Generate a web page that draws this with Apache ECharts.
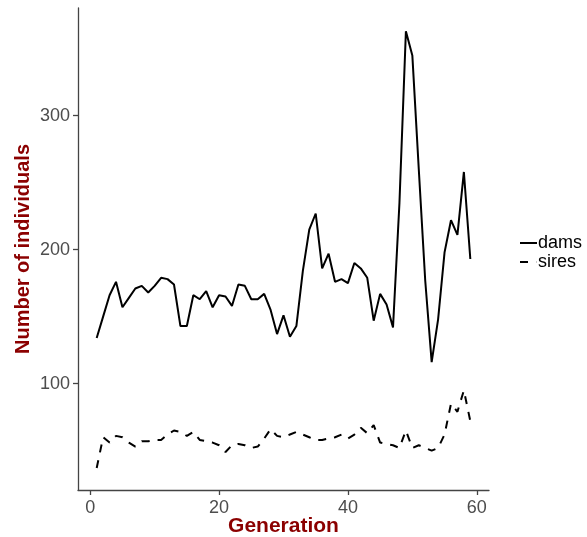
<!DOCTYPE html>
<html>
<head>
<meta charset="utf-8">
<script src="https://cdn.jsdelivr.net/npm/echarts@6/dist/echarts.min.js"></script>
<style>
html,body{margin:0;padding:0;background:#fff;}
#chart{width:587px;height:537px;}
</style>
</head>
<body>
<div id="chart"></div>
<script>
const generations = [1,2,3,4,5,6,7,8,9,10,11,12,13,14,15,16,17,18,19,20,21,22,23,24,25,26,27,28,29,30,31,32,33,34,35,36,37,38,39,40,41,42,43,44,45,46,47,48,49,50,51,52,53,54,55,56,57,58,59];
const dams = [134,150,166,176,157,164,171,173,168,173,179,178,174,143,143,166,163,169,157,166,165,158,174,173,163,163,167,155,137,151,135,143,184,215,227,186,197,176,178,175,190,186,179,147,167,159,142,235,363,345,260,177,116,148,198,222,211,258,193];
const sires = [37,60,56,61,60,56,53,57,57,58,58,62,65,64,61,64,58,57,56,54,49,54,55,54,52,53,59,66,61,60,62,64,62,60,58,58,59,60,62,59,62,67,63,69,56,55,54,52,65,52,54,52,50,52,62,85,79,95,72];
const seriesNames = ['dams','sires'];
const xTicks = [0,20,40,60];
const yTicks = [100,200,300];
const xTitle = 'Generation';
const yTitle = 'Number of individuals';

const font = 'Liberation Sans, Arial, sans-serif';
const chart = echarts.init(document.getElementById('chart'), null, {renderer:'canvas'});
const toPairs = arr => generations.map((g,i)=>[g,arr[i]]);
const solidIcon = 'path://M0,0h17v2h-17z';
const dashIcon = 'path://M0,0h8v2h-8z M16.8,0h0.2v2h-0.2z';
chart.setOption({
  animation:false,
  backgroundColor:'#ffffff',
  grid:{left:78,right:98,top:8,bottom:47,outerBoundsMode:'none',containLabel:false},
  legend:{
    orient:'vertical',left:520,top:234,padding:0,
    itemWidth:17,itemHeight:2,itemGap:1,
    textStyle:{fontFamily:font,fontSize:18,color:'#000',padding:[0,0,0,-4]},
    data:[{name:seriesNames[0],icon:solidIcon},{name:seriesNames[1],icon:dashIcon}]
  },
  xAxis:{
    type:'value',min:-1.9,max:61.9,
    name:xTitle,nameLocation:'middle',nameGap:26,nameMoveOverlap:false,
    nameTextStyle:{fontFamily:font,fontSize:21,fontWeight:'bold',color:'#8B0000'},
    axisLine:{show:true,onZero:false,lineStyle:{color:'#444',width:1.3}},
    axisTick:{show:true,length:5,lineStyle:{color:'#444',width:1.3},customValues:xTicks},
    axisLabel:{fontFamily:font,fontSize:18,color:'#4D4D4D',margin:9,customValues:xTicks},
    splitLine:{show:false}
  },
  yAxis:{
    type:'value',min:20.6,max:380.4,
    name:yTitle,nameLocation:'middle',nameGap:45,nameMoveOverlap:false,
    nameTextStyle:{fontFamily:font,fontSize:20,fontWeight:'bold',color:'#8B0000'},
    axisLine:{show:true,onZero:false,lineStyle:{color:'#444',width:1.3}},
    axisTick:{show:true,length:5,lineStyle:{color:'#444',width:1.3},customValues:yTicks},
    axisLabel:{fontFamily:font,fontSize:18,color:'#4D4D4D',margin:8,customValues:yTicks},
    splitLine:{show:false}
  },
  series:[
    {name:seriesNames[0],type:'line',data:toPairs(dams),symbol:'none',
     lineStyle:{color:'#000',width:2,type:'solid'},itemStyle:{color:'#000'}},
    {name:seriesNames[1],type:'line',data:toPairs(sires),symbol:'none',
     lineStyle:{color:'#000',width:2,type:[8,8]},itemStyle:{color:'#000'}}
  ]
});
</script>
</body>
</html>
